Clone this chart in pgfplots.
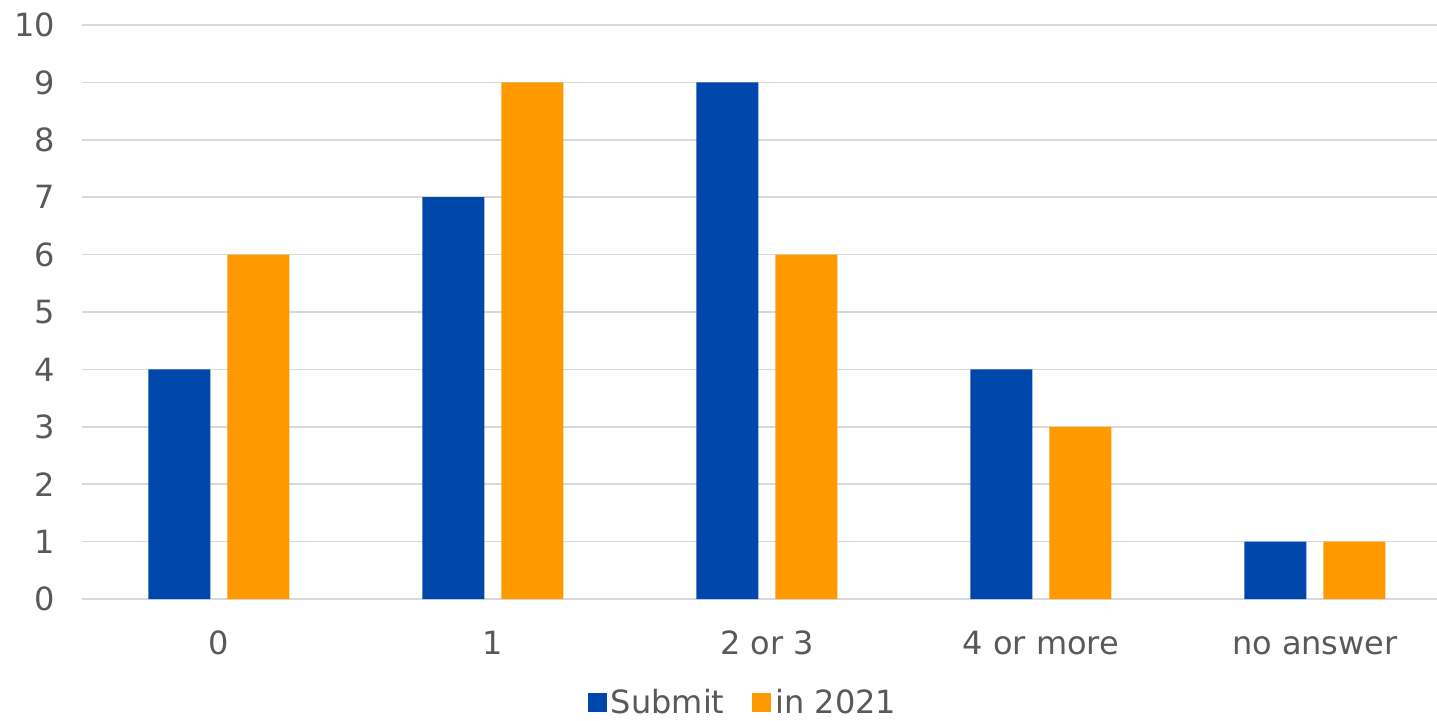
\documentclass[border=0pt]{standalone}
\usepackage{pgfplots}
\pgfplotsset{compat=1.18}
\usepackage{fontspec}
\setmainfont{DejaVu Sans}
\definecolor{cblue}{RGB}{0,71,171}
\definecolor{corange}{RGB}{255,153,0}
\definecolor{ctext}{RGB}{89,89,89}
\definecolor{cgrid}{RGB}{217,217,217}
\begin{document}
\begin{tikzpicture}
\useasboundingbox (0,0) rectangle (718.5pt,360pt);
\begin{axis}[
  at={(41pt,60.5pt)}, anchor=south west,
  scale only axis, width=677.5pt, height=287pt,
  ybar=8.5pt, bar width=31pt,
  xmin=-0.5, xmax=4.446, ymin=0, ymax=10,
  xtick={0,1,2,3,4},
  xticklabels={0,1,2 or 3,4 or more,no answer},
  ytick={0,1,...,10},
  ymajorgrids, grid style={cgrid, line width=0.8pt},
  axis line style={draw=none}, tick style={draw=none},
  font=\fontsize{16}{19}\selectfont,
  ticklabel style={text=ctext},
  /pgf/number format/assume math mode=true,
  yticklabel style={xshift=-10pt},
  xticklabel style={yshift=-8pt, text height=12pt, text depth=3.5pt},
  legend style={at={(0.4886,-0.181)}, anchor=center, draw=none, legend columns=2,
    text=ctext, /tikz/every even column/.append style={column sep=12pt}},
  legend image code/.code={\fill[#1] (0pt,-4.75pt) rectangle (9.5pt,4.75pt);},
]
\addplot[fill=cblue, draw=none] coordinates {(0,4) (1,7) (2,9) (3,4) (4,1)};
\addplot[fill=corange, draw=none] coordinates {(0,6) (1,9) (2,6) (3,3) (4,1)};
\legend{Submit, in 2021}
\end{axis}
\end{tikzpicture}
\end{document}
